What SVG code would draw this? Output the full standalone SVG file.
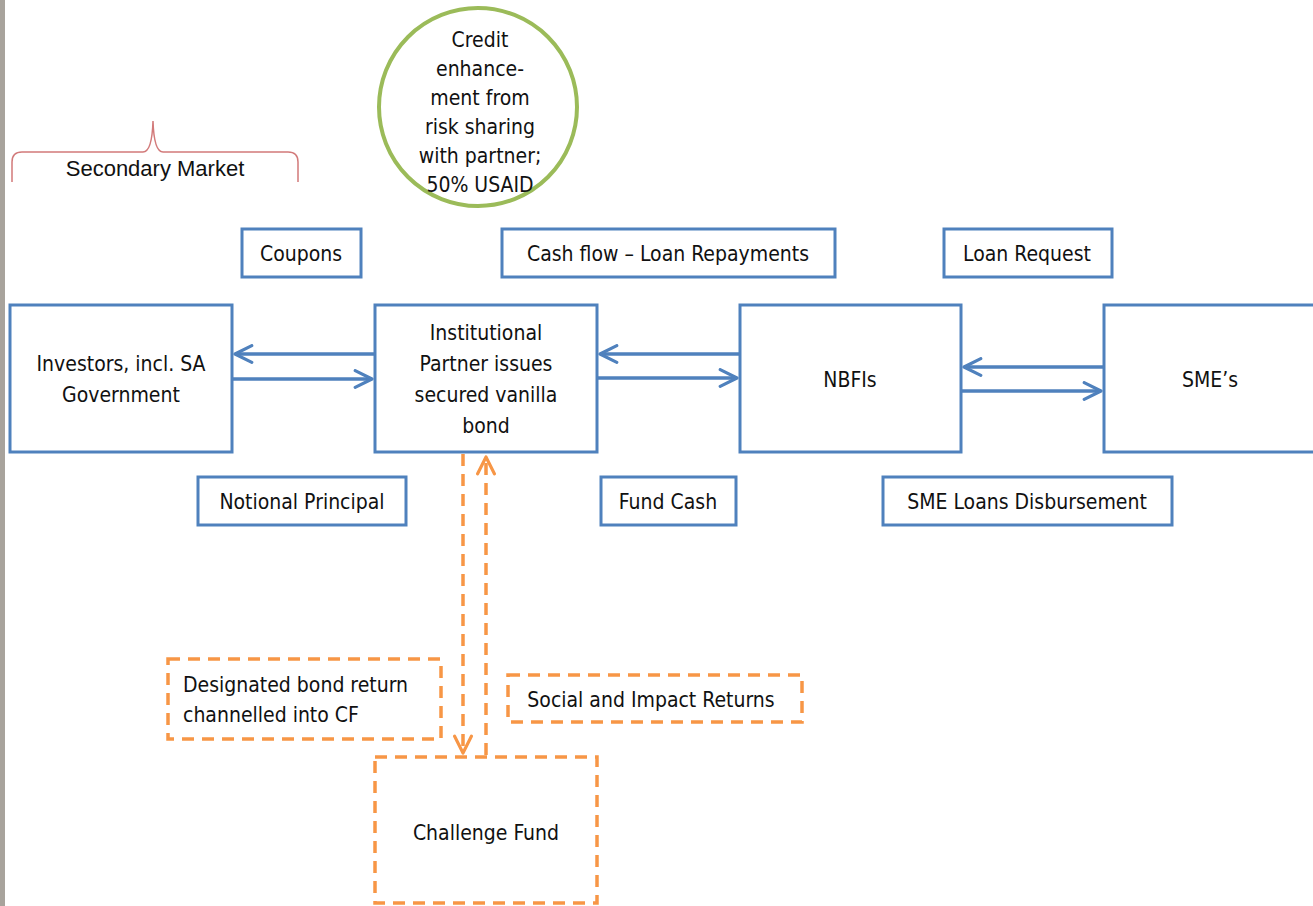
<svg xmlns="http://www.w3.org/2000/svg" width="1313" height="906" viewBox="0 0 1313 906">
  <defs>
    <style>
      .box { fill: #ffffff; stroke: #4f81bd; stroke-width: 3; }
      .dbox { fill: #ffffff; stroke: #f79646; stroke-width: 3.5; stroke-dasharray: 12 8; }
      .lbl { font-family: "Liberation Sans Narrow", "DejaVu Sans Condensed", "Liberation Sans", sans-serif; font-size: 21px; fill: #111111; text-anchor: middle; }
      .lbl.left { text-anchor: start; }
      .flow { stroke: #4f81bd; stroke-width: 3.5; fill: none; }
      .dflow { stroke: #f79646; stroke-width: 3.5; fill: none; stroke-dasharray: 12 8; }
    </style>
    <marker id="ah" viewBox="0 0 10 10" refX="9" refY="5" markerWidth="6" markerHeight="6" orient="auto" markerUnits="strokeWidth">
      <path d="M1,1 L9,5 L1,9" fill="none" stroke="#4f81bd" stroke-width="1.5" stroke-linecap="round" stroke-linejoin="round"/>
    </marker>
    <marker id="ahO" viewBox="0 0 10 10" refX="9" refY="5" markerWidth="6" markerHeight="6" orient="auto" markerUnits="strokeWidth">
      <path d="M1,1 L9,5 L1,9" fill="none" stroke="#f79646" stroke-width="1.5" stroke-linecap="round" stroke-linejoin="round"/>
    </marker>
  </defs>

  <rect x="0" y="0" width="1313" height="906" fill="#ffffff"/>
  <rect x="0" y="0" width="5" height="906" fill="#a8a39c"/>

  <!-- secondary market brace -->
  <g id="secondary-market">
    <path d="M12,182 L12,162 Q12,152 22,152 L143,152 Q152,152 153,121 Q154,152 163,152 L288,152 Q298,152 298,162 L298,182" fill="none" stroke="#d27a7a" stroke-width="1.5"/>
    <text x="155" y="176" font-family="Liberation Sans, sans-serif" font-size="22" fill="#111111" text-anchor="middle">Secondary Market</text>
  </g>

  <!-- credit enhancement -->
  <g id="credit-enhancement">
    <circle cx="478" cy="107" r="99" fill="#ffffff" stroke="#9bbb59" stroke-width="4"/>
    <text class="lbl" x="480" y="47">Credit</text>
    <text class="lbl" x="480" y="76">enhance-</text>
    <text class="lbl" x="480" y="105">ment from</text>
    <text class="lbl" x="480" y="134">risk sharing</text>
    <text class="lbl" x="480" y="163">with partner;</text>
    <text class="lbl" x="480" y="192">50% USAID</text>
  </g>

  <g id="coupons">
    <rect class="box" x="242" y="229" width="119" height="48"/>
    <text class="lbl" x="301" y="261">Coupons</text>
  </g>
  <g id="cash-flow">
    <rect class="box" x="502" y="229" width="333" height="48"/>
    <text class="lbl" x="668" y="261">Cash flow –  Loan Repayments</text>
  </g>
  <g id="loan-request">
    <rect class="box" x="944" y="229" width="168" height="48"/>
    <text class="lbl" x="1027" y="261">Loan Request</text>
  </g>

  <g id="investors">
    <rect class="box" x="10" y="305" width="222" height="147"/>
    <text class="lbl" x="121" y="371">Investors, incl. SA</text>
    <text class="lbl" x="121" y="402">Government</text>
  </g>
  <g id="institutional-partner">
    <rect class="box" x="375" y="305" width="222" height="147"/>
    <text class="lbl" x="486" y="340">Institutional</text>
    <text class="lbl" x="486" y="371">Partner issues</text>
    <text class="lbl" x="486" y="402">secured vanilla</text>
    <text class="lbl" x="486" y="433">bond</text>
  </g>
  <g id="nbfis">
    <rect class="box" x="740" y="305" width="221" height="147"/>
    <text class="lbl" x="850" y="387">NBFIs</text>
  </g>
  <g id="smes">
    <rect class="box" x="1104" y="305" width="215" height="147"/>
    <text class="lbl" x="1210" y="387">SME’s</text>
  </g>

  <g id="notional-principal">
    <rect class="box" x="198" y="477" width="208" height="48"/>
    <text class="lbl" x="302" y="509">Notional Principal</text>
  </g>
  <g id="fund-cash">
    <rect class="box" x="601" y="477" width="135" height="48"/>
    <text class="lbl" x="668" y="509">Fund Cash</text>
  </g>
  <g id="sme-loans">
    <rect class="box" x="883" y="477" width="289" height="48"/>
    <text class="lbl" x="1027" y="509">SME Loans Disbursement</text>
  </g>

  <g id="designated-return">
    <rect class="dbox" x="168" y="659" width="273" height="80"/>
    <text class="lbl left" x="183" y="692">Designated bond return</text>
    <text class="lbl left" x="183" y="722">channelled into CF</text>
  </g>
  <g id="social-returns">
    <rect class="dbox" x="508" y="675" width="294" height="47"/>
    <text class="lbl" x="651" y="707">Social and Impact Returns</text>
  </g>
  <g id="challenge-fund">
    <rect class="dbox" x="375" y="757" width="222" height="146"/>
    <text class="lbl" x="486" y="840">Challenge Fund</text>
  </g>

  <g id="connectors">
    <line class="flow" x1="375" y1="354" x2="235" y2="354" marker-end="url(#ah)"/>
    <line class="flow" x1="232" y1="379" x2="372" y2="379" marker-end="url(#ah)"/>
    <line class="flow" x1="740" y1="354" x2="600" y2="354" marker-end="url(#ah)"/>
    <line class="flow" x1="597" y1="378" x2="737" y2="378" marker-end="url(#ah)"/>
    <line class="flow" x1="1104" y1="367" x2="964" y2="367" marker-end="url(#ah)"/>
    <line class="flow" x1="961" y1="391" x2="1101" y2="391" marker-end="url(#ah)"/>
    <line class="dflow" x1="463" y1="454" x2="463" y2="753" marker-end="url(#ahO)"/>
    <line class="dflow" x1="486" y1="755" x2="486" y2="457" marker-end="url(#ahO)"/>
  </g>
</svg>
